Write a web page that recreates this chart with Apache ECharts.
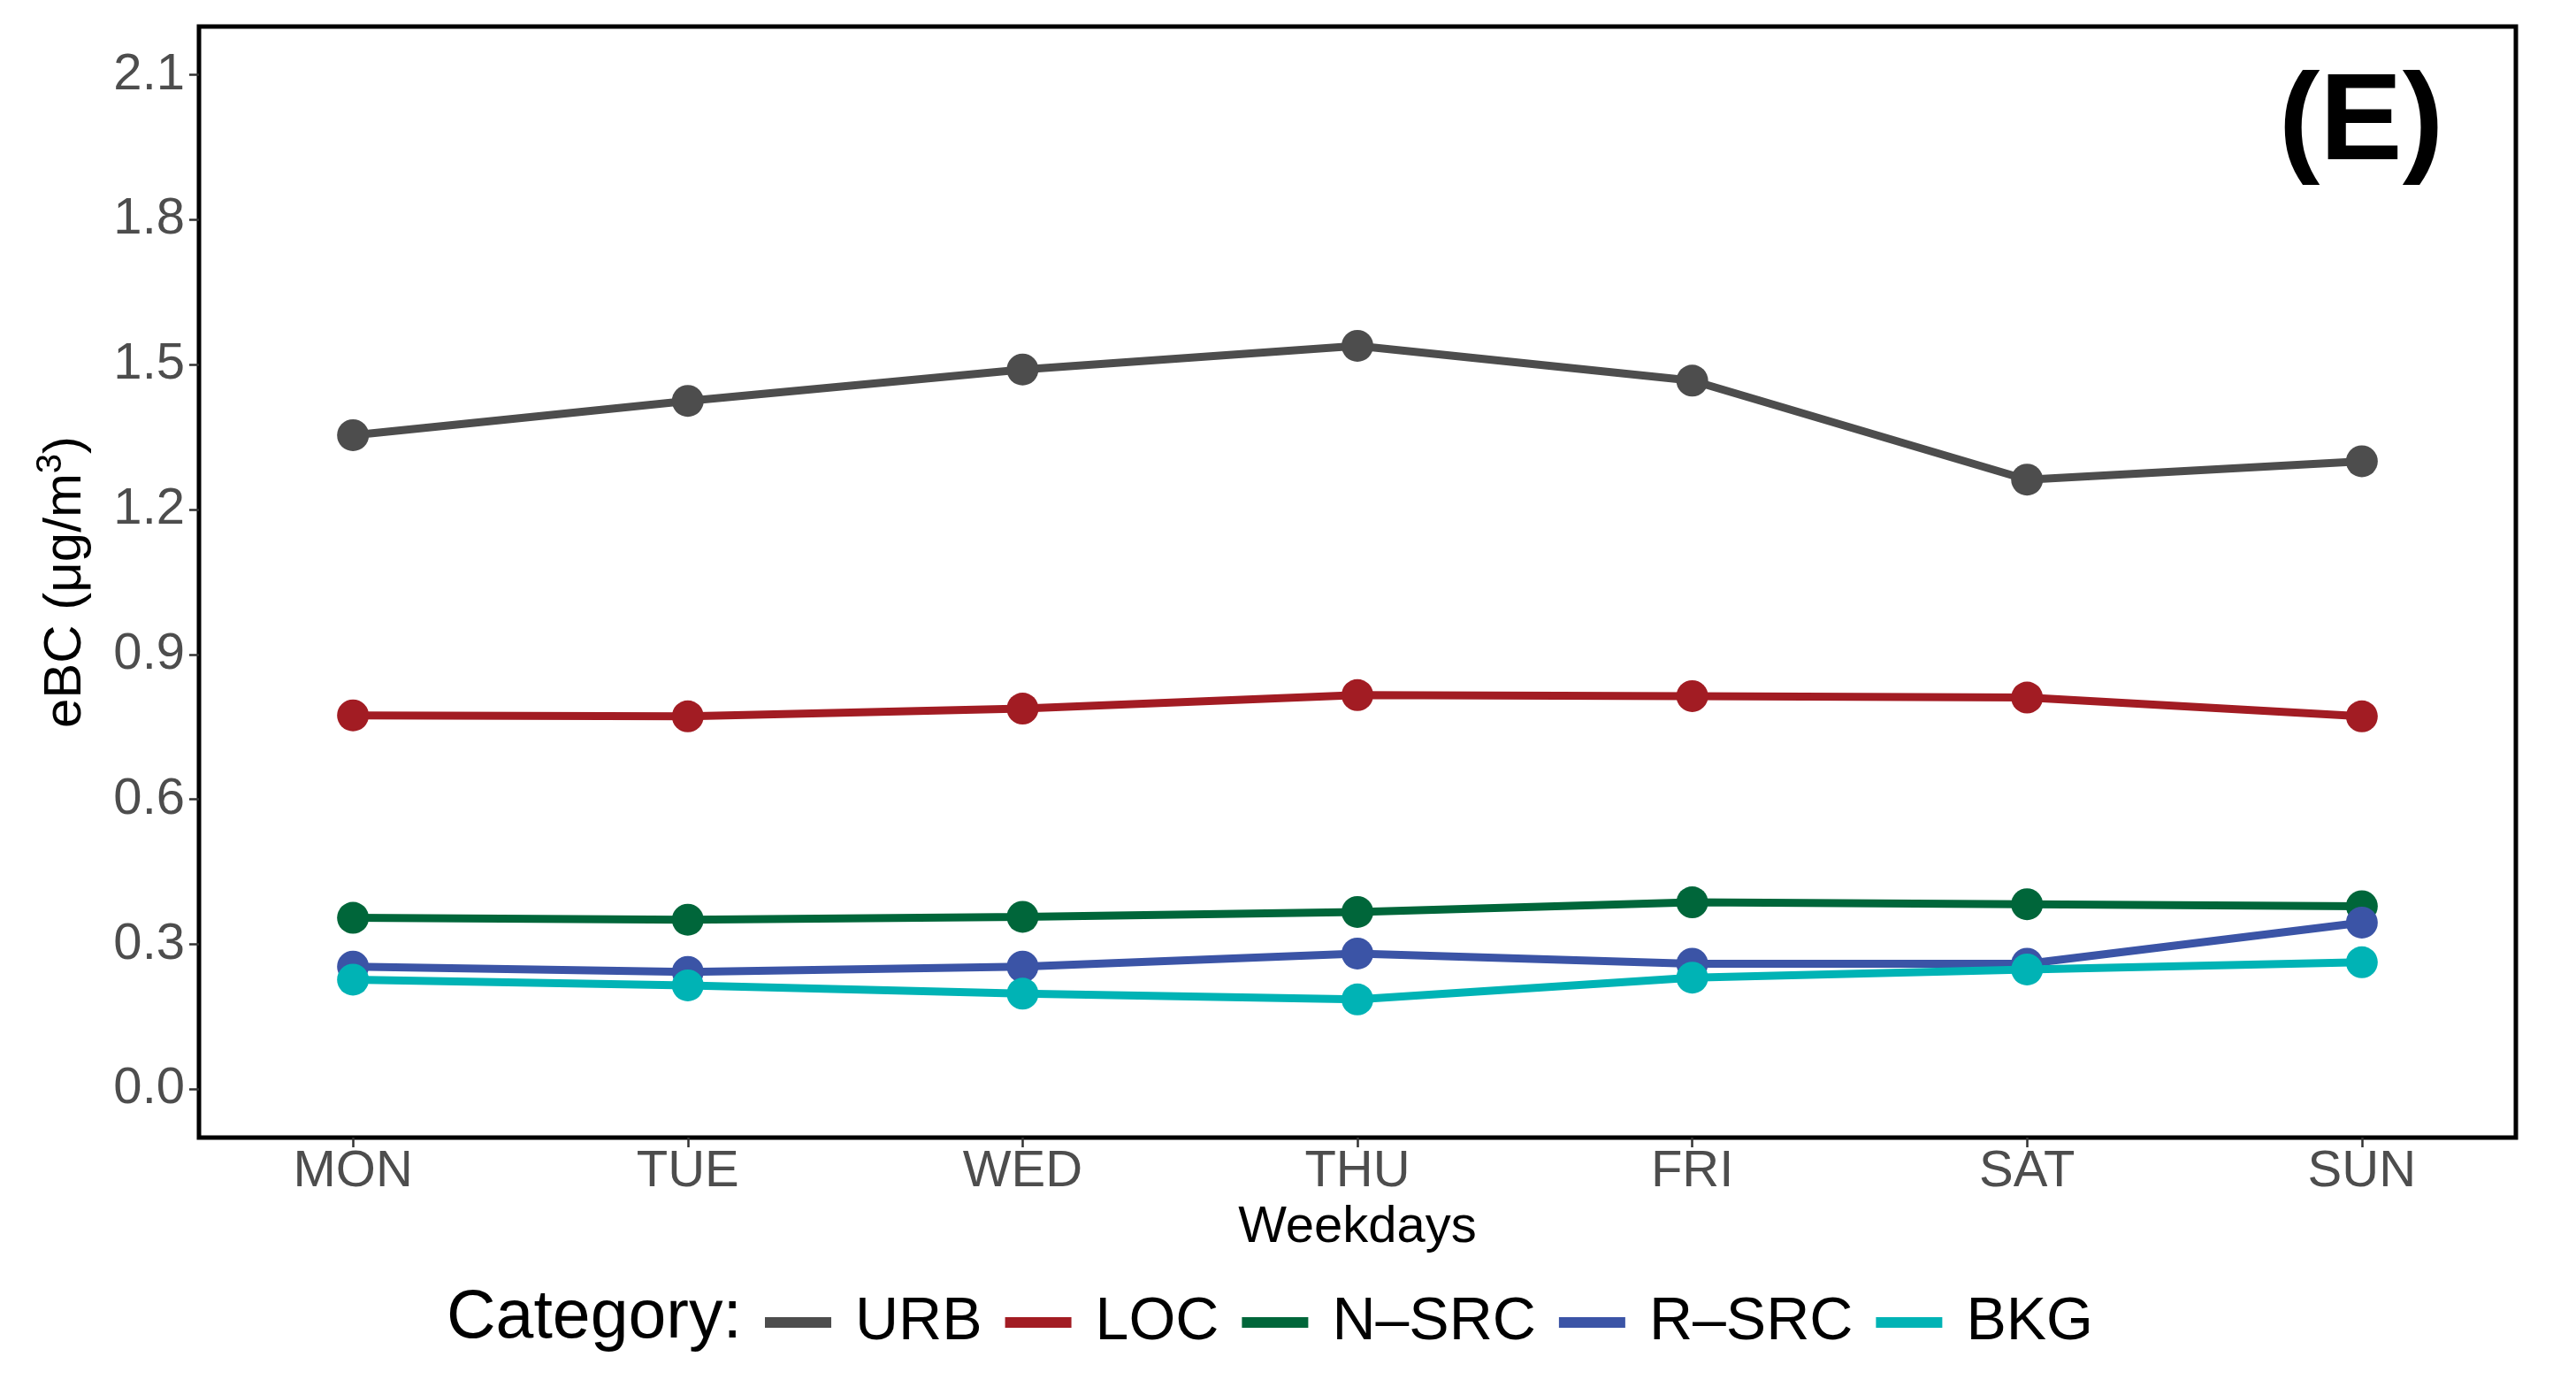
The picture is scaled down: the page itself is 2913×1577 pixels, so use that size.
<!DOCTYPE html>
<html>
<head>
<meta charset="utf-8">
<script src="https://cdn.jsdelivr.net/npm/echarts@6/dist/echarts.min.js"></script>
<style>
html,body{margin:0;padding:0;background:#fff;}
#chart{width:2913px;height:1577px;}
</style>
</head>
<body>
<div id="chart"></div>
<script>
var days = ['MON','TUE','WED','THU','FRI','SAT','SUN'];
var yTicks = [0.0, 0.3, 0.6, 0.9, 1.2, 1.5, 1.8, 2.1];
var categoryNames = ['URB','LOC','N\u2013SRC','R\u2013SRC','BKG'];
var colors = ['#4d4d4d','#a21c23','#00663a','#3b54a6','#00b3b5'];
var urb  = [1.354, 1.425, 1.490, 1.539, 1.467, 1.262, 1.300];
var loc  = [0.774, 0.772, 0.788, 0.816, 0.814, 0.811, 0.772];
var nsrc = [0.355, 0.351, 0.357, 0.367, 0.387, 0.383, 0.379];
var rsrc = [0.254, 0.243, 0.254, 0.281, 0.260, 0.260, 0.345];
var bkg  = [0.227, 0.215, 0.198, 0.186, 0.231, 0.248, 0.263];
var seriesValues = [urb, loc, nsrc, rsrc, bkg];

var FONT = '"Liberation Sans", Arial, sans-serif';
var chart = echarts.init(document.getElementById('chart'), null, {renderer:'canvas'});

var series = seriesValues.map(function(vals, k){
  return {
    name: categoryNames[k],
    type: 'line',
    data: vals.map(function(v,i){ return [i, v]; }),
    symbol: 'circle',
    symbolSize: 36,
    lineStyle: {width: 9, color: colors[k]},
    itemStyle: {color: colors[k]},
    emphasis: {disabled: true},
    animation: false,
    z: 2 + k
  };
});

chart.setOption({
  backgroundColor: '#ffffff',
  animation: false,
  grid: {
    left: 225, top: 30, right: 68, bottom: 291,
    show: true, borderColor: '#000', borderWidth: 5, backgroundColor: 'transparent'
  },
  xAxis: {
    type: 'value',
    min: -0.46, max: 6.46,
    splitLine: {show: false},
    axisLine: {show: false, onZero: false},
    axisTick: {show: true, length: 11, lineStyle: {color: '#333', width: 2.5}, customValues: [0,1,2,3,4,5,6]},
    axisLabel: {
      customValues: [0,1,2,3,4,5,6],
      formatter: function(v){ return days[Math.round(v)]; },
      fontSize: 58, color: '#4d4d4d', fontFamily: FONT, margin: 10
    },
    name: 'Weekdays',
    nameLocation: 'middle',
    nameGap: 73,
    nameTextStyle: {fontSize: 58, color: '#000', fontFamily: FONT}
  },
  yAxis: {
    type: 'value',
    min: -0.1, max: 2.2,
    splitLine: {show: false},
    axisLine: {show: false, onZero: false},
    axisTick: {show: true, length: 11, lineStyle: {color: '#333', width: 2.5}, customValues: yTicks},
    axisLabel: {
      customValues: yTicks,
      formatter: function(v){ return v.toFixed(1); },
      fontSize: 58, color: '#4d4d4d', fontFamily: FONT, margin: 16
    },
    name: 'eBC (\u03bcg/m{sup|3})',
    nameLocation: 'middle',
    nameRotate: 90,
    nameGap: 115,
    nameTextStyle: {
      fontSize: 60, color: '#000', fontFamily: FONT, lineHeight: 72,
      rich: {sup: {fontSize: 40, fontFamily: FONT, color: '#000', lineHeight: 40, verticalAlign: 'top'}}
    }
  },
  legend: {
    data: categoryNames,
    left: 860,
    top: 1456,
    orient: 'horizontal',
    icon: 'rect',
    itemWidth: 75,
    itemHeight: 12,
    itemGap: 26,
    selectedMode: false,
    textStyle: {fontSize: 68, color: '#000', fontFamily: FONT, padding: [0,0,0,22]}
  },
  graphic: [
    {type: 'text', left: 505, top: 1452, style: {text: 'Category:', fontSize: 77, fontFamily: FONT, fill: '#000'}},
    {type: 'text', x: 2670, y: 141, style: {text: '(E)', fontSize: 140, fontWeight: 'bold', fontFamily: FONT, fill: '#000', align: 'center', verticalAlign: 'middle'}}
  ],
  series: series
});
</script>
</body>
</html>
